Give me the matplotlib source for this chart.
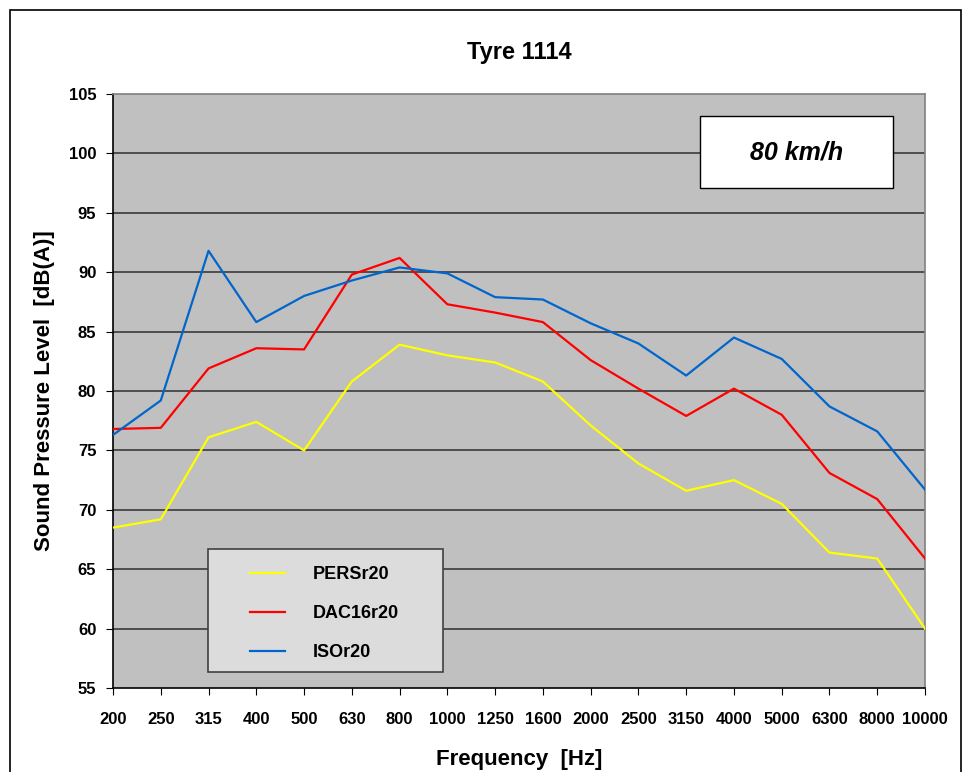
import numpy as np
import matplotlib.pyplot as plt
from matplotlib.patches import Rectangle

plt.rcParams['font.family'] = ['Liberation Sans', 'DejaVu Sans']

# Frequency bands (category axis)
freqs = ['200', '250', '315', '400', '500', '630', '800', '1000', '1250', '1600',
         '2000', '2500', '3150', '4000', '5000', '6300', '8000', '10000']

# Sound pressure levels, dB(A)
pers = [68.5, 69.2, 76.1, 77.4, 75.0, 80.8, 83.9, 83.0, 82.4, 80.8,
        77.1, 73.9, 71.6, 72.5, 70.5, 66.4, 65.9, 60.0]
dac = [76.8, 76.9, 81.9, 83.6, 83.5, 89.8, 91.2, 87.3, 86.6, 85.8,
       82.6, 80.2, 77.9, 80.2, 78.0, 73.1, 70.9, 65.9]
iso = [76.3, 79.2, 91.8, 85.8, 88.0, 89.3, 90.4, 89.9, 87.9, 87.7,
       85.7, 84.0, 81.3, 84.5, 82.7, 78.7, 76.6, 71.7]

W, H = 963, 772
fig = plt.figure(figsize=(W/100, H/100), dpi=100)
ax = fig.add_axes([113/W, 1-688/H, (925-113)/W, (688-94)/H])

# outer chart border
fig.patches.append(Rectangle((10/W, -0.1), 951/W, 1.1 - 10/H, transform=fig.transFigure,
                             fill=False, edgecolor='black', linewidth=1.2))

x = np.arange(len(freqs))
ax.set_facecolor('#C0C0C0')
ax.plot(x, pers, color='#FFFF00', linewidth=1.6, label='PERSr20', zorder=3)
ax.plot(x, dac, color='#FF0000', linewidth=1.6, label='DAC16r20', zorder=3)
ax.plot(x, iso, color='#0066CC', linewidth=1.6, label='ISOr20', zorder=3)

ax.set_xlim(0, len(freqs) - 1)
ax.set_ylim(55, 105)
ax.set_yticks(np.arange(55, 106, 5))
ax.set_xticks(x)
ax.set_xticklabels(freqs)
for yv in range(60, 105, 5):
    ax.axhline(yv, color='#3A3A3A', linewidth=1.2, zorder=1)

for lab in ax.get_xticklabels() + ax.get_yticklabels():
    lab.set_fontweight('bold')
    lab.set_fontsize(12)
ax.tick_params(axis='x', direction='out', length=5, pad=12, color='black')
ax.tick_params(axis='y', direction='out', length=5, pad=7, color='black')

ax.spines['left'].set_color('black')
ax.spines['bottom'].set_color('black')
ax.spines['top'].set_color('#808080')
ax.spines['right'].set_color('#808080')
for s in ax.spines.values():
    s.set_linewidth(1.2)

ax.set_title('Tyre 1114', fontsize=17, fontweight='bold', pad=25)
ax.set_xlabel('Frequency  [Hz]', fontsize=16, fontweight='bold', labelpad=16)
ax.set_ylabel('Sound Pressure Level  [dB(A)]', fontsize=16, fontweight='bold', labelpad=10)

# speed box
box = Rectangle(((700-113)/812, 1-(188-94)/594), 193/812, 72/594, transform=ax.transAxes,
                facecolor='white', edgecolor='black', linewidth=1, zorder=4)
ax.add_patch(box)
ax.text((797-113)/812, 1-(153-94)/594, '80 km/h', transform=ax.transAxes, ha='center',
        va='center', fontsize=18, fontweight='bold', fontstyle='italic', zorder=5)

# legend box drawn separately, entries placed inside
lbox = Rectangle(((208-113)/812, (688-672)/594), 235/812, 123/594, transform=ax.transAxes,
                 facecolor='#DCDCDC', edgecolor='#404040', linewidth=1.2, zorder=5)
ax.add_patch(lbox)
leg = ax.legend(loc='upper left', bbox_to_anchor=((250-113)/812, 1-(566-94)/594),
                frameon=False, fontsize=13, handlelength=1.95, handletextpad=1.55,
                labelspacing=1.22, borderpad=0, borderaxespad=0)
for t in leg.get_texts():
    t.set_fontweight('bold')
leg.set_zorder(6)

fig.savefig('out.png', dpi=100)
